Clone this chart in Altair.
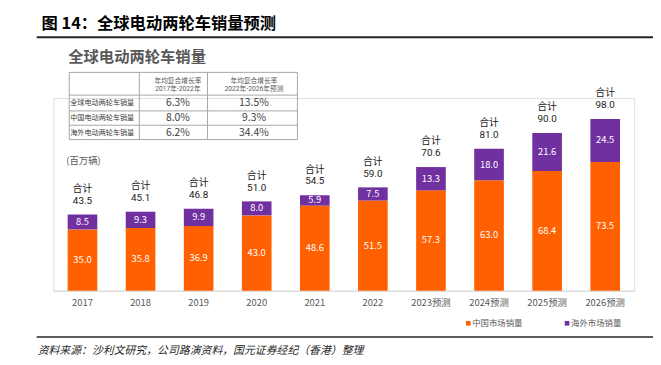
import altair as alt
import pandas as pd

# ---------------- data ----------------
years = ["2017", "2018", "2019", "2020", "2021", "2022",
         "2023预测", "2024预测", "2025预测", "2026预测"]
china = [35.0, 35.8, 36.9, 43.0, 48.6, 51.5, 57.3, 63.0, 68.4, 73.5]
overseas = [8.5, 9.3, 9.9, 8.0, 5.9, 7.5, 13.3, 18.0, 21.6, 24.5]
totals = [43.5, 45.1, 46.8, 51.0, 54.5, 59.0, 70.6, 81.0, 90.0, 98.0]
series_names = ["中国市场销量", "海外市场销量"]
series_colors = ["#FF6000", "#7030A0"]

table_rows = ["全球电动两轮车销量", "中国电动两轮车销量", "海外电动两轮车销量"]
cagr_2017_2022 = ["6.3%", "8.0%", "6.2%"]
cagr_2022_2026 = ["13.5%", "9.3%", "34.4%"]
table_header_1 = ["年均复合增长率", "2017年-2022年"]
table_header_2 = ["年均复合增长率", "2022年-2026年预测"]

title_text = "图 14：全球电动两轮车销量预测"
subtitle_text = "全球电动两轮车销量"
unit_text = "(百万辆)"
total_word = "合计"
source_text = "资料来源：沙利文研究，公司路演资料，国元证券经纪（香港）整理"

# ---------------- tables for the library ----------------
rows = []
for i, yr in enumerate(years):
    rows.append({"year": yr, "series": series_names[0], "value": china[i],
                 "ord": 0, "mid": china[i] / 2})
    rows.append({"year": yr, "series": series_names[1], "value": overseas[i],
                 "ord": 1, "mid": china[i] + overseas[i] / 2})
df = pd.DataFrame(rows)
df["label"] = df["value"].map(lambda v: f"{v:.1f}")
tot = pd.DataFrame({"year": years, "total": totals})
tot["label"] = tot["total"].map(lambda v: f"{v:.1f}")
tot["word"] = total_word

FONT = "Noto Sans CJK SC"
# compact line box, CJK glyphs fall back to Noto Sans CJK
TIGHT = "Roboto, Noto Sans CJK SC"
# plot-area origin on the page (page px)
OX, OY = 54, 97


def P(x, y):
    return x - OX, y - OY


def text(t, x, y, size, color="#404040", align="left", weight="normal",
         style="normal", font=FONT):
    px, py = P(x, y)
    return alt.Chart(alt.Data(values=[{}])).mark_text(
        text=t, fontSize=size, color=color, align=align, baseline="middle",
        fontWeight=weight, fontStyle=style, font=font
    ).encode(x=alt.value(px), y=alt.value(py))


def rule(x1, y1, x2, y2, color="#A6A6A6", width=1):
    a = P(x1, y1)
    b = P(x2, y2)
    return alt.Chart(alt.Data(values=[{}])).mark_rule(
        color=color, strokeWidth=width
    ).encode(x=alt.value(a[0]), y=alt.value(a[1]),
             x2=alt.value(b[0]), y2=alt.value(b[1]))


def square(x, y, color):
    px, py = P(x, y)
    return alt.Chart(alt.Data(values=[{}])).mark_square(
        size=22, color=color, opacity=1, filled=True
    ).encode(x=alt.value(px), y=alt.value(py))


xenc = alt.X("year:N", sort=years,
             scale=alt.Scale(paddingInner=0.49, paddingOuter=0.245),
             axis=alt.Axis(title=None, labelAngle=0, ticks=False,
                           domainColor="#D9D9D9", labelColor="#595959",
                           labelFontSize=9.5, labelPadding=7, labelFont=FONT))
yscale = alt.Scale(domain=[0, 110], nice=False)

bars = alt.Chart(df).mark_bar(size=30).encode(
    x=xenc,
    y=alt.Y("value:Q", stack="zero", scale=yscale, axis=None),
    color=alt.Color("series:N", scale=alt.Scale(domain=series_names,
                                                range=series_colors),
                    legend=None),
    order=alt.Order("ord:Q"),
)

seg_labels = alt.Chart(df).mark_text(
    color="white", fontSize=9.5, baseline="middle", font=FONT
).encode(x=alt.X("year:N", sort=years), y=alt.Y("mid:Q", scale=yscale),
         text="label:N")

tot_val = alt.Chart(tot).mark_text(
    color="#1A1A1A", fontSize=10, baseline="middle", dy=-14, font=TIGHT
).encode(x=alt.X("year:N", sort=years), y=alt.Y("total:Q", scale=yscale),
         text="label:N")
tot_word = alt.Chart(tot).mark_text(
    color="#1A1A1A", fontSize=10, baseline="middle", dy=-26, font=TIGHT
).encode(x=alt.X("year:N", sort=years), y=alt.Y("total:Q", scale=yscale),
         text="word:N")

deco = []
# title and rules
deco.append(text(title_text, 42, 22, 16.5, color="#000000", weight="bold"))
deco.append(rule(37, 35.5, 661, 35.5, color="#262626", width=2))
deco.append(rule(37, 339, 661, 339, color="#262626", width=1.5))
deco.append(text(source_text, 38, 353, 11, color="#262626", style="italic"))
deco.append(text(subtitle_text, 69, 55, 15.5, color="#595959", weight="bold"))
deco.append(text(unit_text, 67, 161, 9.5, color="#595959"))

# table
tx1, tx2 = 70, 301
ty1, ty2 = 71, 139
for yy in [ty1, 94, 110, 124.5, ty2]:
    deco.append(rule(tx1, yy, tx2, yy))
for xx in [tx1, 141, 210, tx2]:
    deco.append(rule(xx, ty1, xx, ty2))
for cx, hdr in [(180, table_header_1), (257, table_header_2)]:
    deco.append(text(hdr[0], cx, 79.5, 6.8, color="#595959", align="center",
                     font=TIGHT))
    deco.append(text(hdr[1], cx, 88, 6.8, color="#595959", align="center",
                     font=TIGHT))
row_y = [102.5, 117.5, 132]
for i, lab in enumerate(table_rows):
    deco.append(text(lab, 71, row_y[i], 7.2, color="#404040"))
    deco.append(text(cagr_2017_2022[i], 180, row_y[i], 10.5,
                     color="#404040", align="center"))
    deco.append(text(cagr_2022_2026[i], 257, row_y[i], 10.5,
                     color="#404040", align="center"))

# legend
deco.append(square(474, 325, series_colors[0]))
deco.append(text(series_names[0], 478, 325, 8.5, color="#595959"))
deco.append(square(574, 325, series_colors[1]))
deco.append(text(series_names[1], 578, 325, 8.5, color="#595959"))

chart = alt.layer(bars, seg_labels, tot_val, tot_word, *deco).properties(
    width=588, height=195,
    padding={"left": 46, "top": 89, "right": 19, "bottom": 69},
    autosize=alt.AutoSizeParams(type="none"),
    background="white",
).configure_view(stroke=None).configure(font=FONT)

chart.save("out.html", embed_options={"renderer": "svg", "actions": False})
